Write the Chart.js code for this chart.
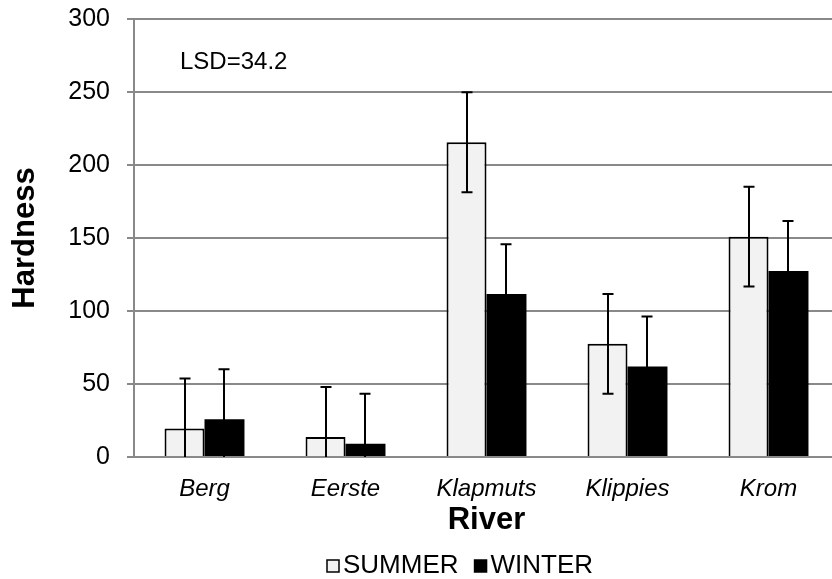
<!DOCTYPE html>
<html>
<head>
<meta charset="utf-8">
<title>Hardness by river</title>
<script src="https://cdn.jsdelivr.net/npm/chart.js@4.4.1/dist/chart.umd.min.js"></script>
<style>
  html, body { margin: 0; padding: 0; background: #fff; overflow: hidden; }
  #wrap { width: 850px; height: 579px; }
</style>
</head>
<body>
<div id="wrap"><canvas id="chart" width="850" height="579"></canvas></div>
<script>
// Mean hardness per river and season, with error bar half-widths
const RIVERS = ['Berg', 'Eerste', 'Klapmuts', 'Klippies', 'Krom'];
const SUMMER = [19.5, 13.7, 215.6, 77.5, 150.9];
const WINTER = [25.9, 9.1, 111.6, 62.0, 127.4];
const SUMMER_ERR = [34.2, 34.2, 34.2, 34.2, 34.2];
const WINTER_ERR = [34.2, 34.2, 34.2, 34.2, 34.2];
const Y_MIN = 0, Y_MAX = 300, Y_STEP = 50;
const LSD_LABEL = 'LSD=34.2';

const FONT = '"Liberation Sans", Arial, sans-serif';
const GRID = '#898989';

Chart.defaults.font.family = FONT;
Chart.defaults.color = '#000';

// vertical error bars, clipped to the plot area
const errorBars = {
  id: 'errorBars',
  afterDatasetsDraw(chart) {
    const { ctx, chartArea: a, scales: { y } } = chart;
    ctx.save();
    ctx.beginPath();
    ctx.rect(a.left, a.top, a.right - a.left, a.bottom - a.top);
    ctx.clip();
    ctx.strokeStyle = '#000';
    ctx.lineWidth = 2;
    chart.data.datasets.forEach((ds, i) => {
      chart.getDatasetMeta(i).data.forEach((bar, j) => {
        const v = ds.data[j], e = ds.errors[j];
        const top = y.getPixelForValue(v + e);
        const bot = y.getPixelForValue(v - e);
        const x = Math.round(bar.x), cap = 5.5;
        ctx.beginPath();
        ctx.moveTo(x, top); ctx.lineTo(x, bot);
        ctx.moveTo(x - cap, top); ctx.lineTo(x + cap, top);
        ctx.moveTo(x - cap, bot); ctx.lineTo(x + cap, bot);
        ctx.stroke();
      });
    });
    ctx.restore();
  }
};

// LSD note and the season legend under the axis title
const notes = {
  id: 'notes',
  afterDraw(chart) {
    const { ctx, chartArea: a } = chart;
    ctx.save();
    ctx.fillStyle = '#000';
    ctx.font = '24px ' + FONT;
    ctx.textBaseline = 'middle';
    ctx.textAlign = 'left';
    ctx.fillText(LSD_LABEL, a.left + 46, a.top + 43);

    let x = 327;
    const yMid = 566, box = 12;
    ctx.font = '26px ' + FONT;
    chart.data.datasets.forEach(ds => {
      ctx.fillStyle = ds.backgroundColor;
      ctx.fillRect(x, yMid - box / 2, box, box);
      ctx.strokeStyle = '#000';
      ctx.lineWidth = 1.5;
      ctx.strokeRect(x, yMid - box / 2, box, box);
      x += box + 4;
      ctx.fillStyle = '#000';
      ctx.fillText(ds.label, x, yMid);
      x += ctx.measureText(ds.label).width + 16;
    });
    ctx.restore();
  }
};

new Chart(document.getElementById('chart'), {
  type: 'bar',
  data: {
    labels: RIVERS,
    datasets: [
      { label: 'SUMMER', data: SUMMER, errors: SUMMER_ERR,
        backgroundColor: '#f2f2f2', borderColor: '#000', borderWidth: 2 },
      { label: 'WINTER', data: WINTER, errors: WINTER_ERR,
        backgroundColor: '#000', borderColor: '#000', borderWidth: 0 }
    ]
  },
  options: {
    responsive: false,
    animation: false,
    layout: { padding: { top: 19, left: 0, right: 11, bottom: 40 } },
    datasets: { bar: { barPercentage: 1, categoryPercentage: 0.567 } },
    plugins: { legend: { display: false }, tooltip: { enabled: false } },
    scales: {
      x: {
        grid: { display: false, drawTicks: false },
        border: { display: true, color: GRID, width: 2 },
        ticks: { font: { size: 24, style: 'italic' }, padding: 18, maxRotation: 0, autoSkip: false },
        title: { display: true, text: 'River', font: { size: 31, weight: 'bold' }, padding: { top: 0, bottom: 0 } },
        afterFit(scale) { scale.height = 82; }
      },
      y: {
        min: Y_MIN, max: Y_MAX,
        grid: { color: GRID, lineWidth: 2, tickColor: GRID, tickLength: 7 },
        border: { display: true, color: GRID, width: 2 },
        ticks: { stepSize: Y_STEP, font: { size: 25 }, padding: 17 },
        title: { display: true, text: 'Hardness', font: { size: 31, weight: 'bold' }, padding: { top: 7, bottom: 0 } },
        afterFit(scale) {
          // fixed axis width; the top label may sit in the outer padding
          scale.width = 134;
          scale.paddingTop = 0;
          scale.paddingBottom = 0;
        }
      }
    }
  },
  plugins: [errorBars, notes]
});
</script>
</body>
</html>
